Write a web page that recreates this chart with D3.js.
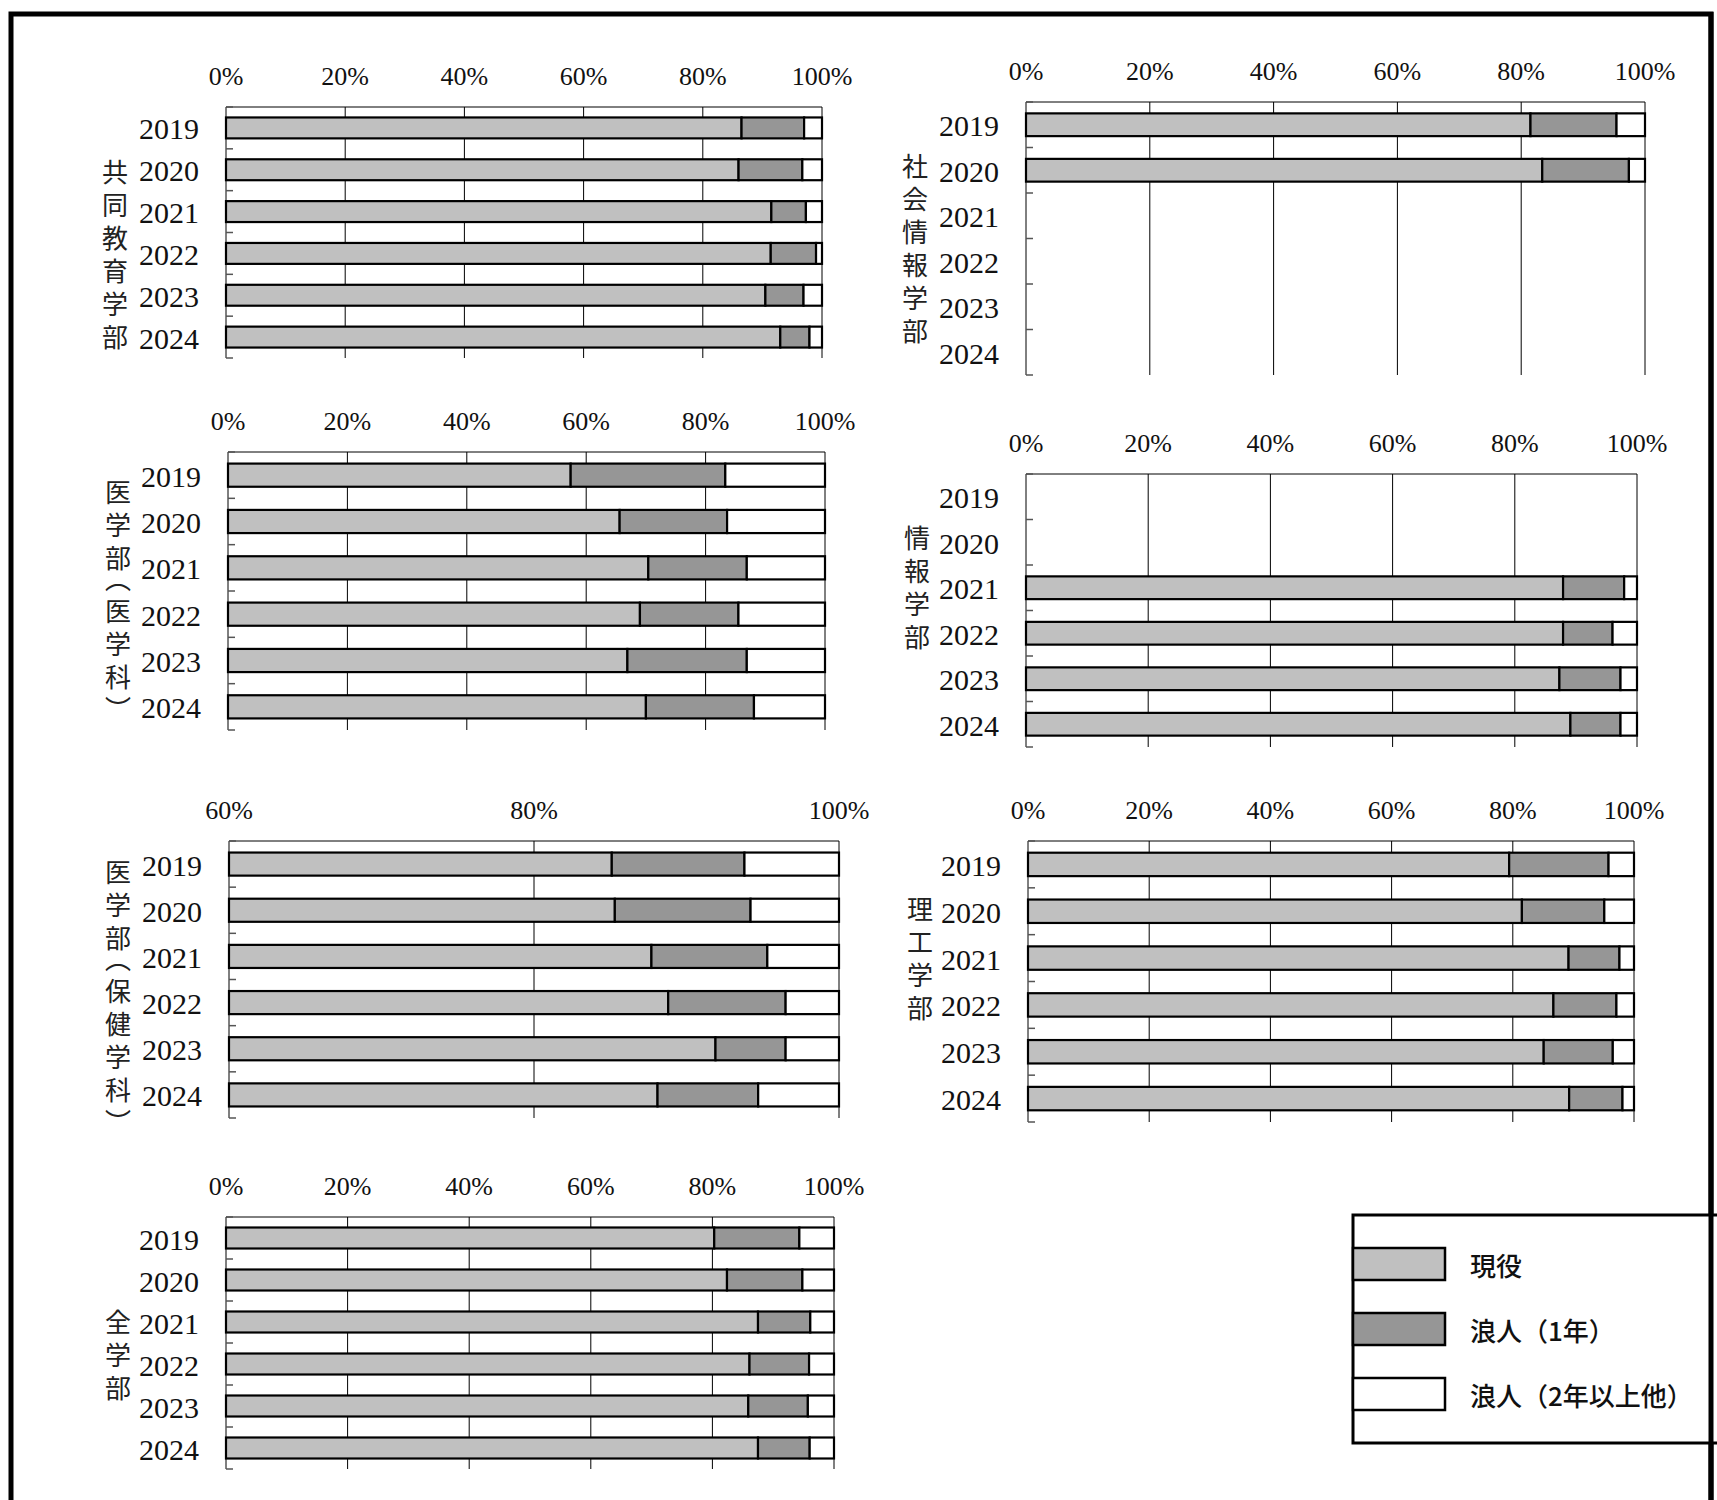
<!DOCTYPE html>
<html>
<head>
<meta charset="utf-8">
<style>
    body { margin: 0; background: #fff; }
    svg { display: block; }
    .tick-label { font-family: 'Liberation Serif', serif; font-size: 26px; fill: #111; }
    .year-label { font-family: 'Liberation Serif', serif; font-size: 30px; fill: #111; }
    .fac-label {
        font-family: 'Noto Sans CJK JP', sans-serif; font-size: 26px; fill: #222;
        writing-mode: vertical-rl; letter-spacing: 7px;
        font-feature-settings: "vpal" 1;
    }
    .legend-label { font-family: 'Noto Sans CJK JP', sans-serif; font-size: 26px; font-weight: 500; fill: #111; }
</style>
</head>
<body>
<svg width="1717" height="1500"></svg>

<script src="https://d3js.org/d3.v7.min.js"></script>
<script>
    // data (%)
    const years = ["2019", "2020", "2021", "2022", "2023", "2024"];
    const faculties = ["共同教育学部", "社会情報学部", "医学部（医学科）", "情報学部",
        "医学部（保健学科）", "理工学部", "全学部"];
    const seriesNames = ["現役", "浪人（1年）", "浪人（2年以上他）"];

    const genneki = [
        [86.5, 86.0, 91.5, 91.4, 90.5, 93.0],
        [81.5, 83.4, null, null, null, null],
        [57.4, 65.6, 70.4, 69.0, 66.9, 70.0],
        [null, null, 87.9, 87.9, 87.3, 89.1],
        [85.1, 85.3, 87.7, 88.8, 91.9, 88.1],
        [79.4, 81.5, 89.2, 86.7, 85.1, 89.3],
        [80.3, 82.4, 87.5, 86.1, 85.9, 87.5]
    ];
    const ronin1 = [
        [10.5, 10.7, 5.8, 7.6, 6.4, 4.9],
        [13.9, 14.0, null, null, null, null],
        [25.9, 18.0, 16.5, 16.5, 20.0, 18.1],
        [null, null, 10.0, 8.1, 10.0, 8.2],
        [8.7, 8.9, 7.6, 7.7, 4.6, 6.6],
        [16.4, 13.6, 8.4, 10.4, 11.4, 8.8],
        [14.0, 12.4, 8.6, 9.8, 9.8, 8.5]
    ];
    const ronin2 = [
        [3.0, 3.3, 2.7, 1.0, 3.1, 2.1],
        [4.6, 2.6, null, null, null, null],
        [16.7, 16.4, 13.1, 14.5, 13.1, 11.9],
        [null, null, 2.1, 4.0, 2.7, 2.7],
        [6.2, 5.8, 4.7, 3.5, 3.5, 5.3],
        [4.2, 4.9, 2.4, 2.9, 3.5, 1.9],
        [5.7, 5.2, 3.9, 4.1, 4.3, 4.0]
    ];
    const axisMin = [0, 0, 0, 0, 60, 0, 0];
    const tickValues = [
        [0, 20, 40, 60, 80, 100],
        [0, 20, 40, 60, 80, 100],
        [0, 20, 40, 60, 80, 100],
        [0, 20, 40, 60, 80, 100],
        [60, 80, 100],
        [0, 20, 40, 60, 80, 100],
        [0, 20, 40, 60, 80, 100]
    ];

    // panel placement
    const layout = [
        { x0: 226, x1: 822, y0: 107, y1: 358, lx: 115, ltop: 159 },
        { x0: 1026, x1: 1645, y0: 102, y1: 375, lx: 915, ltop: 153 },
        { x0: 228, x1: 825, y0: 452, y1: 730, lx: 118, ltop: 479 },
        { x0: 1026, x1: 1637, y0: 474, y1: 747, lx: 917, ltop: 525 },
        { x0: 229, x1: 839, y0: 841, y1: 1118, lx: 118, ltop: 859 },
        { x0: 1028, x1: 1634, y0: 841, y1: 1122, lx: 920, ltop: 896 },
        { x0: 226, x1: 834, y0: 1217, y1: 1469, lx: 118, ltop: 1309 }
    ];

    const colors = ["#c0c0c0", "#969696", "#ffffff"];
    const keys = ["gen", "r1", "r2"];

    let svg = d3.select("svg");

    // outer frame (open at the bottom edge of the page)
    svg.append("rect")
        .attr("x", 11).attr("y", 14)
        .attr("width", 1700).attr("height", 1520)
        .style("fill", "none")
        .style("stroke", "#000")
        .style("stroke-width", 5)

    faculties.forEach((name, p) => {
        let L = layout[p];
        let g = svg.append("g");

        let x = d3.scaleLinear()
            .domain([axisMin[p], 100])
            .range([L.x0, L.x1])
            .clamp(true);

        let y = d3.scaleBand()
            .domain(years)
            .range([L.y0, L.y1])
            .paddingInner(0.5)
            .paddingOuter(0.25);

        // vertical grid lines
        g.selectAll(".grid")
            .data(tickValues[p])
            .join("line")
            .attr("x1", d => x(d)).attr("x2", d => x(d))
            .attr("y1", L.y0).attr("y2", L.y1)
            .style("stroke", "#000")
            .style("stroke-width", 1)

        // top line
        g.append("line")
            .attr("x1", L.x0).attr("x2", L.x1)
            .attr("y1", L.y0).attr("y2", L.y0)
            .style("stroke", "#000")
            .style("stroke-width", 1)

        // small ticks at band boundaries
        let step = y.step();
        g.selectAll(".ytick")
            .data(d3.range(years.length + 1))
            .join("line")
            .attr("x1", L.x0).attr("x2", L.x0 + 7)
            .attr("y1", d => L.y0 + d * step)
            .attr("y2", d => L.y0 + d * step)
            .style("stroke", "#555")
            .style("stroke-width", 1.5)

        // tick labels
        g.selectAll(".tick-label")
            .data(tickValues[p])
            .join("text")
            .attr("class", "tick-label")
            .attr("x", d => x(d))
            .attr("y", L.y0 - 31)
            .attr("text-anchor", "middle")
            .attr("dominant-baseline", "central")
            .text(d => d + "%")

        // year labels
        g.selectAll(".year-label")
            .data(years)
            .join("text")
            .attr("class", "year-label")
            .attr("x", L.x0 - 27)
            .attr("y", d => y(d) + y.bandwidth() / 2 + 1)
            .attr("text-anchor", "end")
            .attr("dominant-baseline", "central")
            .text(d => d)

        // stacked bars
        let rows = years.map((yr, i) => ({
            year: yr, gen: genneki[p][i], r1: ronin1[p][i], r2: ronin2[p][i]
        })).filter(d => d.gen != null);

        let stacked = d3.stack().keys(keys)(rows);

        g.selectAll(".series")
            .data(stacked)
            .join("g")
            .style("fill", (d, i) => colors[i])
            .selectAll("rect")
            .data(d => d)
            .join("rect")
            .attr("x", d => x(d[0]))
            .attr("width", d => x(d[1]) - x(d[0]))
            .attr("y", d => y(d.data.year))
            .attr("height", y.bandwidth())
            .style("stroke", "#000")
            .style("stroke-width", 2.2)

        // vertical faculty label
        g.append("text")
            .attr("class", "fac-label")
            .attr("x", L.lx)
            .attr("y", L.ltop)
            .text(name)
    });

    // legend
    let legend = svg.append("g");
    legend.append("rect")
        .attr("x", 1353).attr("y", 1215)
        .attr("width", 400).attr("height", 228)
        .style("fill", "#fff")
        .style("stroke", "#000")
        .style("stroke-width", 3)

    let ly = d3.scalePoint()
        .domain(seriesNames)
        .range([1264, 1394]);

    legend.selectAll(".swatch")
        .data(seriesNames)
        .join("rect")
        .attr("x", 1353)
        .attr("y", d => ly(d) - 16)
        .attr("width", 92)
        .attr("height", 32)
        .style("fill", (d, i) => colors[i])
        .style("stroke", "#000")
        .style("stroke-width", 2.5)

    legend.selectAll(".legend-label")
        .data(seriesNames)
        .join("text")
        .attr("class", "legend-label")
        .attr("x", 1470)
        .attr("y", d => ly(d))
        .attr("dominant-baseline", "central")
        .text(d => d)

    // redraw right frame edge over the legend box
    svg.append("line")
        .attr("x1", 1711).attr("x2", 1711)
        .attr("y1", 12).attr("y2", 1500)
        .style("stroke", "#000")
        .style("stroke-width", 5)
</script>
</body>
</html>
